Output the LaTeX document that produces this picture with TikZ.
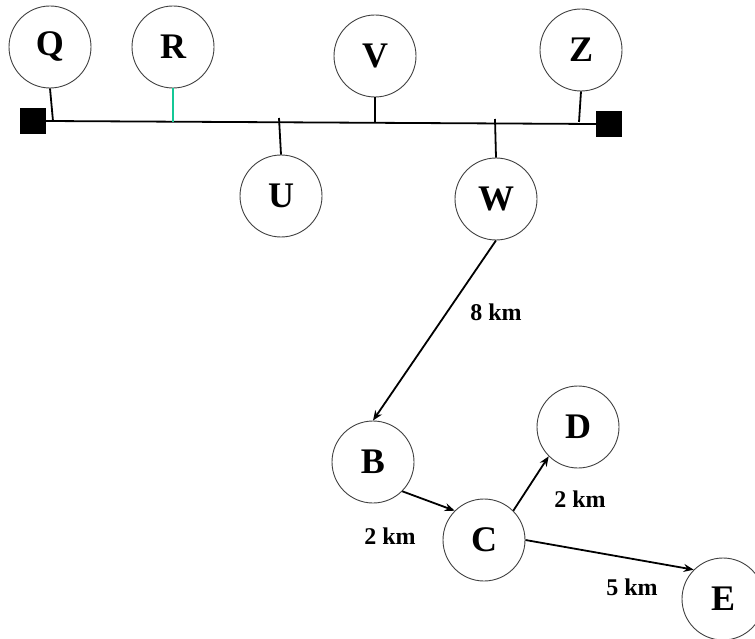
\documentclass[tikz,border=0pt]{standalone}
\usepackage{fontspec}
\setmainfont{Liberation Serif}
\usetikzlibrary{arrows.meta}
\definecolor{tealstub}{RGB}{20,200,150}
\tikzset{
  station/.style={circle, draw=black!75, line width=0.9pt, minimum size=82pt, inner sep=0pt,
    font=\fontsize{36}{36}\selectfont\bfseries},
  term/.style={fill=black, minimum size=26pt, inner sep=0pt},
  link/.style={line width=1.8pt},
  arr/.style={link, -{Stealth[length=10pt,width=8pt]}},
  dist/.style={font=\fontsize{24}{24}\selectfont\bfseries, inner sep=0pt}
}
\begin{document}
\begin{tikzpicture}[x=1pt,y=-1pt]
\useasboundingbox (0,0) rectangle (755,639);
% stations
\node[station] (Q) at (50,47) {Q};
\node[station] (R) at (173,47) {R};
\node[station] (V) at (375,56) {V};
\node[station] (Z) at (581,50) {Z};
\node[station] (U) at (281,196) {U};
\node[station] (W) at (496,199) {W};
\node[station] (B) at (373,462) {B};
\node[station] (C) at (484,540) {C};
\node[station] (D) at (578,427) {D};
\node[station] (E) at (723,599) {E};
% terminals
\node[term] (TL) at (33,121) {};
\node[term] (TR) at (609,124) {};
% bus
\draw[link] (TL.east) -- (TR.west);
\coordinate (q1) at (53,121);
\coordinate (r1) at (173,122);
\coordinate (u1) at (279,118);
\coordinate (v1) at (375,122);
\coordinate (w1) at (495,119);
\coordinate (z1) at (579,122);
\draw[link] (Q.south) -- (q1);
\draw[line width=1.3pt, tealstub] (R.south) -- (r1);
\draw[link] (u1) -- (U.north);
\draw[link] (V.south) -- (v1);
\draw[link] (w1) -- (W.north);
\draw[link] (Z.south) -- (z1);
% arrows
\draw[arr] (W.south) -- (B.north);
\draw[arr] (B.south east) -- (C.north west);
\draw[arr] (C.north east) -- (D.south west);
\draw[arr] (C.east) -- (E.north west);
% distances
\node[dist] (d8) at (496,312) {8 km};
\node[dist] (d2a) at (390,536) {2 km};
\node[dist] (d2b) at (580,499) {2 km};
\node[dist] (d5) at (632,587) {5 km};
\end{tikzpicture}
\end{document}
